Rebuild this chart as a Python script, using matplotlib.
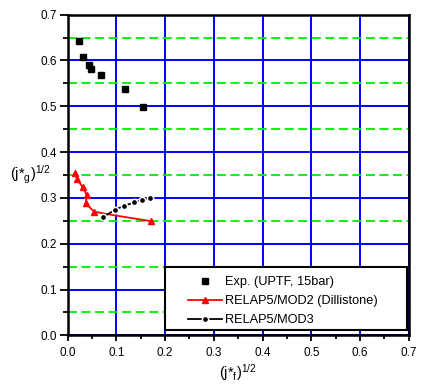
import matplotlib
matplotlib.use("Agg")
import matplotlib.pyplot as plt
from matplotlib.ticker import MultipleLocator, FormatStrFormatter
from matplotlib.patches import Rectangle

plt.rcParams['font.family'] = ['Liberation Sans', 'DejaVu Sans']
plt.rcParams['mathtext.fontset'] = 'custom'
plt.rcParams['mathtext.rm'] = 'Liberation Sans'
plt.rcParams['mathtext.it'] = 'Liberation Sans'

# UPTF experiment, 15 bar
exp_jf = [0.024, 0.032, 0.044, 0.048, 0.069, 0.118, 0.155]
exp_jg = [0.642, 0.607, 0.590, 0.581, 0.568, 0.537, 0.498]

# RELAP5/MOD2 (Dillistone)
mod2_jf = [0.015, 0.019, 0.031, 0.039, 0.037, 0.054, 0.090, 0.172]
mod2_jg = [0.354, 0.341, 0.323, 0.306, 0.288, 0.270, 0.263, 0.249]

# RELAP5/MOD3
mod3_jf = [0.073, 0.097, 0.116, 0.137, 0.152, 0.169]
mod3_jg = [0.258, 0.274, 0.283, 0.290, 0.296, 0.300]

W, H = 422, 389
fig = plt.figure(figsize=(W / 100, H / 100), dpi=100)
ax = fig.add_axes([67.7 / W, 1 - 335.3 / H, 341 / W, 320.6 / H])

ax.set_xlim(0, 0.7)
ax.set_ylim(0, 0.7)
ax.xaxis.set_major_locator(MultipleLocator(0.1))
ax.xaxis.set_minor_locator(MultipleLocator(0.05))
ax.yaxis.set_major_locator(MultipleLocator(0.1))
ax.yaxis.set_minor_locator(MultipleLocator(0.05))
ax.xaxis.set_major_formatter(FormatStrFormatter('%.1f'))
ax.yaxis.set_major_formatter(FormatStrFormatter('%.1f'))

# grid: blue solid major lines, green dashed minor horizontal lines
ax.grid(which='major', color='#0000ff', linewidth=1.4, linestyle='-')
ax.grid(which='minor', axis='y', color='#00ee00', linewidth=1.3,
        linestyle=(0, (5, 2.5)))
ax.set_axisbelow(True)

for s in ax.spines.values():
    s.set_linewidth(1.8)
    s.set_color('black')

ax.tick_params(which='both', direction='out', width=1.3, colors='black',
               labelsize=8.5)
ax.tick_params(axis='y', which='major', length=6, pad=2)
ax.tick_params(axis='y', which='minor', length=3.5)
ax.tick_params(axis='x', which='major', length=4.5, pad=4)
ax.tick_params(axis='x', which='minor', length=3)

h_exp, = ax.plot(exp_jf, exp_jg, linestyle='none', marker='s', color='black',
                 markersize=4, zorder=5)
h_mod2, = ax.plot(mod2_jf, mod2_jg, color='red', linewidth=1.3, marker='^',
                  markersize=5, markevery=[0, 1, 2, 3, 4, 5, 7], zorder=4)
h_mod3, = ax.plot(mod3_jf, mod3_jg, color='black', linewidth=1.3,
                  marker='o', markersize=4.5, markerfacecolor='black',
                  markeredgecolor='white', markeredgewidth=1.1, zorder=5)

# white legend box with black frame, drawn over the grid
ax.add_patch(Rectangle(((165 - 67.7) / 341, (335.3 - 330) / 320.6),
                       (407 - 165) / 341, (330 - 266.7) / 320.6,
                       transform=ax.transAxes, facecolor='white',
                       edgecolor='black', linewidth=1.5, zorder=9,
                       clip_on=False))

leg = ax.legend([h_exp, h_mod2, h_mod3],
                ['Exp. (UPTF, 15bar)', 'RELAP5/MOD2 (Dillistone)',
                 'RELAP5/MOD3'],
                loc='upper left', bbox_to_anchor=(188 / W, 1 - 276 / H),
                bbox_transform=fig.transFigure, frameon=False,
                fontsize=9.2, borderpad=0, borderaxespad=0,
                labelspacing=0.55, handlelength=2.65, handletextpad=0.25)
leg.set_zorder(10)

fig.text(30 / W, 1 - 175 / H, r"(j*$_{g}$)$^{1/2}$", fontsize=10.5,
         ha='center', va='center')
fig.text(238 / W, 1 - 373 / H, r"(j*$_{f}$)$^{1/2}$", fontsize=10.5,
         ha='center', va='center')

fig.savefig('out.png', dpi=100)
